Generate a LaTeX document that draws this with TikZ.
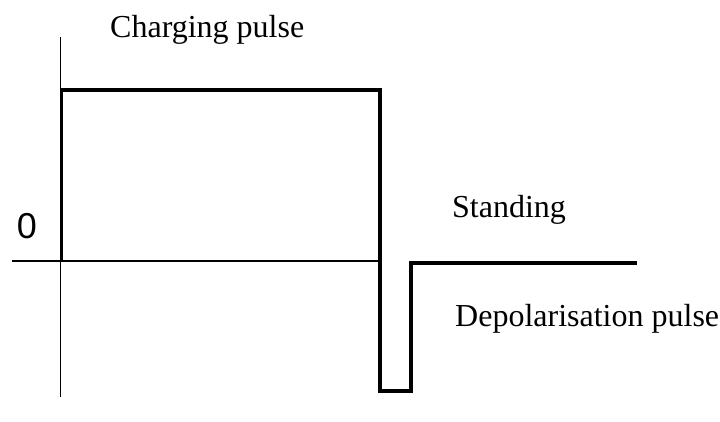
\documentclass[tikz,border=0pt]{standalone}
\usepackage{fontspec}
\setmainfont{Liberation Serif}
\newfontfamily\labelsans{Liberation Sans}
\begin{document}
\begin{tikzpicture}[x=1pt,y=-1pt,
  axisline/.style={line width=1.4pt,black},
  pulseline/.style={line width=3.8pt,black,line join=miter,line cap=butt},
  caption/.style={font=\fontsize{32}{32}\selectfont,inner sep=0pt,anchor=base west}]
\useasboundingbox (0,0) rectangle (720,421);
% axes
\coordinate (ytop) at (60.5,37);
\coordinate (ybot) at (60.5,397);
\coordinate (xleft) at (12,261);
\coordinate (xmid) at (380,261);
\draw[axisline] (ytop) -- (ybot);
\draw[axisline] (xleft) -- (xmid);
% pulse train: charging pulse, depolarisation pulse, standing level
\coordinate (p0) at (61.5,261);
\coordinate (p1) at (61.5,90);
\coordinate (p2) at (380,90);
\coordinate (p3) at (380,391);
\coordinate (p4) at (411,391);
\coordinate (p5) at (411,263);
\coordinate (p6) at (637,263);
\draw[pulseline] (p0) -- (p1) -- (p2) -- (p3) -- (p4) -- (p5) -- (p6);
% labels
\node[caption] (charging) at (110,37) {Charging pulse};
\node[caption] (standing) at (452,217) {Standing};
\node[caption] (depol) at (455,326) {Depolarisation pulse};
\node[font=\labelsans\fontsize{36}{36}\selectfont,inner sep=0pt] (zero) at (27,226) {0};
\end{tikzpicture}
\end{document}
